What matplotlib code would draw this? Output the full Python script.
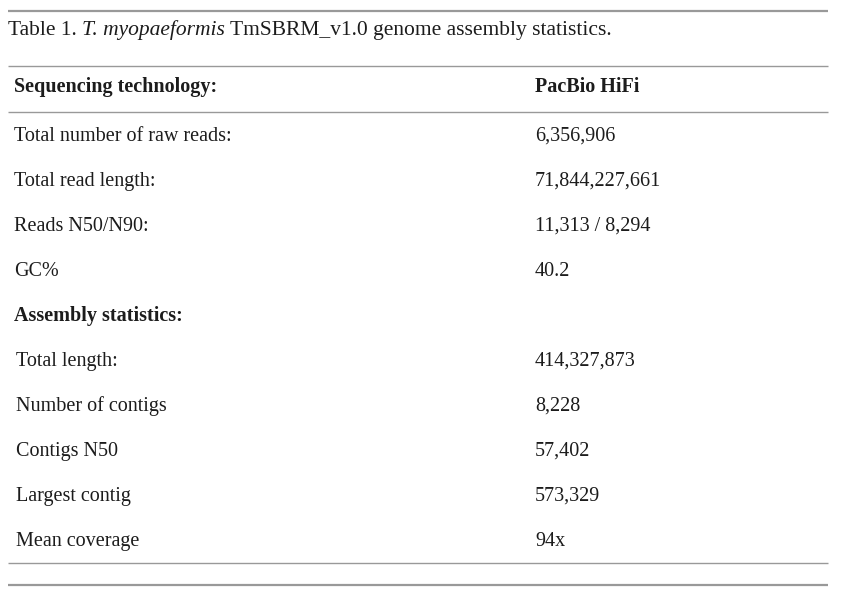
import matplotlib
matplotlib.use("Agg")
import matplotlib.pyplot as plt

caption_prefix = "Table 1. "
caption_species = "T. myopaeformis"
caption_suffix = " TmSBRM_v1.0 genome assembly statistics."

header_label = "Sequencing technology:"
header_value = "PacBio HiFi"

seq_labels = ["Total number of raw reads:", "Total read length:", "Reads N50/N90:", "GC%"]
seq_values = ["6,356,906", "71,844,227,661", "11,313 / 8,294", "40.2"]

section_label = "Assembly statistics:"

asm_labels = ["Total length:", "Number of contigs", "Contigs N50", "Largest contig", "Mean coverage"]
asm_values = ["414,327,873", "8,228", "57,402", "573,329", "94x"]

W, H = 852, 607
FONT = "Liberation Serif"
TXT = "#1c1c1c"
LINE = "#999999"

fig = plt.figure(figsize=(W / 100, H / 100), dpi=100)
ax = fig.add_axes([0, 0, 1, 1])
ax.set_xlim(0, W)
ax.set_ylim(H, 0)
ax.axis("off")

body_fs = 14.5
cap_fs = 15.5

# caption
cy = 35
t1 = ax.text(8, cy, caption_prefix, fontsize=cap_fs, family=FONT, color=TXT, va="baseline", ha="left")
fig.canvas.draw()
r = fig.canvas.get_renderer()
bb = t1.get_window_extent(r)
x = ax.transData.inverted().transform((bb.x1, 0))[0]
t2 = ax.text(x, cy, caption_species, fontsize=cap_fs, family=FONT, style="italic", color=TXT, va="baseline", ha="left")
bb = t2.get_window_extent(r)
x = ax.transData.inverted().transform((bb.x1, 0))[0]
ax.text(x, cy, caption_suffix, fontsize=cap_fs, family=FONT, color=TXT, va="baseline", ha="left")

x0, x1 = 8, 828
ax.plot([x0, x1], [11, 11], color=LINE, lw=1.6, solid_capstyle="butt")
ax.plot([x0, x1], [66, 66], color=LINE, lw=1.0, solid_capstyle="butt")
ax.plot([x0, x1], [112, 112], color=LINE, lw=1.0, solid_capstyle="butt")
ax.plot([x0, x1], [563, 563], color=LINE, lw=1.0, solid_capstyle="butt")
ax.plot([x0, x1], [585, 585], color=LINE, lw=1.6, solid_capstyle="butt")

lx, vx = 14, 535
hy = 92
ax.text(lx, hy, header_label, fontsize=body_fs, family=FONT, weight="bold", color=TXT, va="baseline")
ax.text(vx, hy, header_value, fontsize=body_fs, family=FONT, weight="bold", color=TXT, va="baseline")

y0, dy = 141, 45
for i, (lab, val) in enumerate(zip(seq_labels, seq_values)):
    y = y0 + i * dy
    ax.text(lx, y, lab, fontsize=body_fs, family=FONT, color=TXT, va="baseline")
    ax.text(vx, y, val, fontsize=body_fs, family=FONT, color=TXT, va="baseline")

ys = y0 + len(seq_labels) * dy
ax.text(lx, ys, section_label, fontsize=body_fs, family=FONT, weight="bold", color=TXT, va="baseline")

for i, (lab, val) in enumerate(zip(asm_labels, asm_values)):
    y = ys + (i + 1) * dy
    ax.text(lx + 1.5, y, lab, fontsize=body_fs, family=FONT, color=TXT, va="baseline")
    ax.text(vx, y, val, fontsize=body_fs, family=FONT, color=TXT, va="baseline")

fig.savefig("out.png", dpi=100, facecolor="white")
